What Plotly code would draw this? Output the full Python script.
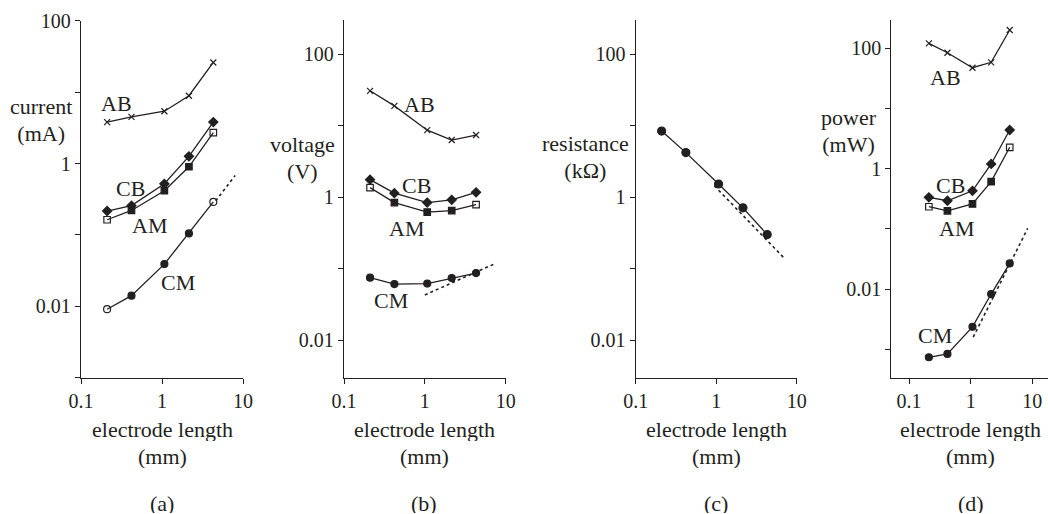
import plotly.graph_objects as go

# ---------------- data ----------------
length_mm = [0.21, 0.42, 1.07, 2.15, 4.3]

# (a) current (mA)
cur_AB = [3.8, 4.5, 5.4, 8.9, 26]
cur_CB = [0.216, 0.257, 0.52, 1.26, 3.8]
cur_AM = [0.163, 0.22, 0.416, 0.9, 2.7]
cur_CM = [0.0091, 0.0141, 0.039, 0.105, 0.29]
cur_fit_x = [4.6, 8.0]
cur_fit_y = [0.30, 0.68]

# (b) voltage (V)
vol_AB = [30.7, 18.9, 8.65, 6.3, 7.4]
vol_CB = [1.76, 1.14, 0.84, 0.92, 1.17]
vol_AM = [1.36, 0.84, 0.62, 0.65, 0.79]
vol_CM = [0.075, 0.061, 0.062, 0.074, 0.087]
vol_fit_x = [1.0, 7.4]
vol_fit_y = [0.043, 0.118]

# (c) resistance (kOhm)
res_CM = [8.4, 4.2, 1.53, 0.71, 0.30]
res_fit_x = [0.95, 7.2]
res_fit_y = [1.44, 0.136]

# (d) power (mW)
pow_AB = [121, 84.5, 47.6, 58.5, 201]
pow_CB = [0.335, 0.294, 0.43, 1.2, 4.4]
pow_AM = [0.234, 0.20, 0.26, 0.61, 2.27]
pow_CM = [0.00074, 0.00084, 0.00237, 0.0083, 0.0268]
pow_fit_x = [1.1, 8.4]
pow_fit_y = [0.0016, 0.102]

series_names = ["AB", "CB", "AM", "CM"]
panel_letters = ["(a)", "(b)", "(c)", "(d)"]
y_titles = [("current", "(mA)"), ("voltage", "(V)"), ("resistance", "(k\u03a9)"), ("power", "(mW)")]

# ---------------- layout helpers ----------------
W, H = 1048, 514
FONT = "Liberation Serif, Times New Roman, serif"
INK = "#231f20"


def fx(px):
    return px / W


def fy(py):
    return 1 - py / H


fig = go.Figure()

LW = 1.3


def add_line(ax, x, y, symbols, size):
    fig.add_trace(go.Scatter(
        x=x, y=y, mode="lines+markers", xaxis="x" + ax, yaxis="y" + ax,
        line=dict(color=INK, width=LW),
        marker=dict(symbol=symbols, size=size, color=INK,
                    line=dict(color=INK, width=1.2)),
        showlegend=False, hoverinfo="skip"))


def add_fit(ax, x, y):
    fig.add_trace(go.Scatter(
        x=x, y=y, mode="lines", xaxis="x" + ax, yaxis="y" + ax,
        line=dict(color=INK, width=1.6, dash="dot"),
        showlegend=False, hoverinfo="skip"))


xs = ["x-thin"] * 5
dia = ["diamond"] * 5
sq_ends = ["square-open", "square", "square", "square", "square-open"]
circ = ["circle"] * 5
circ_ends = ["circle-open", "circle", "circle", "circle", "circle-open"]

# (a)
add_fit("", cur_fit_x, cur_fit_y)
add_line("", length_mm, cur_AB, xs, 6)
add_line("", length_mm, cur_CB, dia, 7)
add_line("", length_mm, cur_AM, sq_ends, 6.5)
add_line("", length_mm, cur_CM, circ_ends, 7)
# (b)
add_fit("2", vol_fit_x, vol_fit_y)
add_line("2", length_mm, vol_AB, xs, 6)
add_line("2", length_mm, vol_CB, dia, 7)
add_line("2", length_mm, vol_AM, sq_ends, 6.5)
add_line("2", length_mm, vol_CM, circ, 7)
# (c)
add_fit("3", res_fit_x, res_fit_y)
add_line("3", length_mm, res_CM, circ, 8)
# (d)
add_fit("4", pow_fit_x, pow_fit_y)
add_line("4", length_mm, pow_AB, xs, 6)
add_line("4", length_mm, pow_CB, dia, 7)
add_line("4", length_mm, pow_AM, sq_ends, 6.5)
add_line("4", length_mm, pow_CM, circ, 7)

for tr in fig.data:
    if tr.xaxis == "x":
        tr.yaxis = "y"

tickfont = dict(family=FONT, size=20, color=INK)


def decade_ticks(lo, hi, labeled):
    vals, texts = [], []
    for e in range(lo, hi + 1):
        v = 10.0 ** e
        vals.append(v)
        texts.append(("%g" % v) if v in labeled else "")
    return vals, texts


common = dict(type="log", showline=True, linecolor=INK, linewidth=LW,
              ticks="outside", ticklen=5, tickwidth=LW, tickcolor=INK,
              showgrid=False, zeroline=False, tickfont=tickfont,
              fixedrange=True, automargin=False)

xv, xt = [0.1, 1, 10], ["0.1", "1", "10"]

# panel geometry (pixels)
panels = [
    dict(x0=81, x1=243, xr=[-1, 1], y0=20.7, y1=377.7, yr=[-3, 2], ylo=-3, yhi=2),
    dict(x0=344, x1=505.7, xr=[-1, 1], y0=20, y1=377.7, yr=[-2.523, 2.477], ylo=-2, yhi=2),
    dict(x0=635.7, x1=796.7, xr=[-1, 1], y0=20, y1=377.7, yr=[-2.523, 2.477], ylo=-2, yhi=2),
    dict(x0=891.3, x1=1048, xr=[-1.287, 1.254], y0=20, y1=377.7, yr=[-3.47, 2.47], ylo=-3, yhi=2),
]

layout = dict(width=W, height=H, margin=dict(l=0, r=0, t=0, b=0, autoexpand=False),
              paper_bgcolor="white", plot_bgcolor="white", showlegend=False)

for i, p in enumerate(panels):
    sfx = "" if i == 0 else str(i + 1)
    yv, yt = decade_ticks(p["ylo"], p["yhi"], [100, 1, 0.01])
    layout["xaxis" + sfx] = dict(common, domain=[fx(p["x0"]), fx(p["x1"])], range=p["xr"],
                                 anchor="y" + sfx, tickvals=xv, ticktext=xt)
    layout["yaxis" + sfx] = dict(common, domain=[fy(p["y1"]), fy(p["y0"])], range=p["yr"],
                                 anchor="x" + sfx, tickvals=yv, ticktext=yt)

fig.update_layout(**layout)


# ---------------- text annotations ----------------
def txt(s, px, py, size=22, h=None):
    kw = {}
    if h is not None:
        kw["height"] = h
    fig.add_annotation(text=s, x=fx(px), y=fy(py), xref="paper", yref="paper",
                       showarrow=False, xanchor="center", yanchor="middle",
                       font=dict(family=FONT, size=size, color=INK), **kw)


def two_line(l1, l2, px, py):
    # base size sets the line spacing (1.3 em); spans set the glyph size
    s = ('<span style="font-size:22px">%s</span><br>'
         '<span style="font-size:22px">%s</span>') % (l1, l2)
    txt(s, px, py, size=20.4)


ytitle_pos = [(41, 120), (302, 157.5), (585, 157), (849, 131)]
xcenters = [162.3, 424.3, 716.3, 970.7]

for i in range(4):
    two_line(y_titles[i][0], y_titles[i][1], *ytitle_pos[i])
    txt("electrode length", xcenters[i], 429, h=24)
    txt("(mm)", xcenters[i], 456, h=24)
    txt(panel_letters[i], xcenters[i], 503, h=20)

label_pos = {
    0: [(116.7, 104), (130.7, 188.7), (149.3, 225), (178.3, 282.3)],
    1: [(419.3, 105), (416, 185), (406, 229), (390.7, 300.7)],
    3: [(945.3, 77.3), (950, 185), (956.7, 228.3), (935, 335.7)],
}
for pi, poss in label_pos.items():
    for name, (px, py) in zip(series_names, poss):
        txt(name, px, py)

fig.write_html("out.html")
